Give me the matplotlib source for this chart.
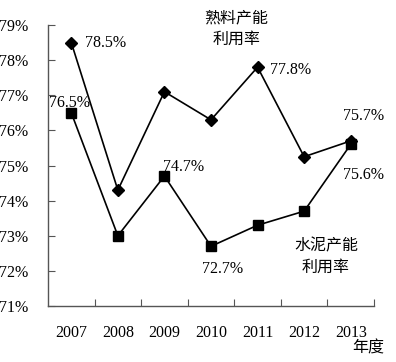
import matplotlib
matplotlib.use("Agg")
import matplotlib.pyplot as plt

plt.rcParams['font.family'] = ['Liberation Serif', 'Noto Sans CJK SC']

years = ['2007', '2008', '2009', '2010', '2011', '2012', '2013']
clinker = [78.5, 74.3, 77.1, 76.3, 77.8, 75.25, 75.7]
cement = [76.5, 73.0, 74.7, 72.7, 73.3, 73.7, 75.6]
yticks = [71, 72, 73, 74, 75, 76, 77, 78, 79]

# which points get a value label, and where (offset in points, ha)
clinker_labels = {0: (10, 0, 'left'), 4: (9, -2, 'left'), 6: (9, 18, 'center')}
cement_labels = {0: (-1.5, 7, 'center'), 2: (-1, 6.5, 'left'),
                 3: (8.5, -16, 'center'), 6: (9, -22, 'center')}

fig = plt.figure(figsize=(3.96, 3.62), dpi=100)
ax = fig.add_axes([48/396, 56/362, 326/396, 281/362])

x = list(range(len(years)))
ax.plot(x, clinker, color='black', lw=1.2, marker='D', ms=6.5, zorder=3)
ax.plot(x, cement, color='black', lw=1.2, marker='s', ms=6.5, zorder=3)

for i, (dx, dy, ha) in clinker_labels.items():
    ax.annotate(f'{clinker[i]:.1f}%', (x[i], clinker[i]), xytext=(dx, dy),
                textcoords='offset points', ha=ha, va='center', fontsize=11.5)
for i, (dx, dy, ha) in cement_labels.items():
    ax.annotate(f'{cement[i]:.1f}%', (x[i], cement[i]), xytext=(dx, dy),
                textcoords='offset points', ha=ha, va='center', fontsize=11.5)

ax.text(3.55, 78.89, '熟料产能\n利用率', ha='center', va='center', fontsize=11.5,
        linespacing=1.45)
ax.text(5.47, 72.38, '水泥产能\n利用率', ha='center', va='center', fontsize=11.5,
        linespacing=1.45)
ax.text(6.37, 69.8, '年度', ha='center', va='center', fontsize=11.5)

ax.set_xlim(-0.5, 6.5)
ax.set_ylim(71, 79)
ax.set_yticks(yticks)
ax.set_yticklabels([f'{v}%' for v in yticks], fontsize=11.5)
ax.set_xticks([i + 0.5 for i in x])
ax.set_xticklabels([])
ax.set_xticks(x, minor=True)
ax.set_xticklabels(years, minor=True, fontsize=11.5)

ax.tick_params(axis='y', direction='in', length=5, color='#555555', pad=14)
ax.tick_params(axis='x', which='major', direction='in', length=5, color='#555555')
ax.tick_params(axis='x', which='minor', length=0, pad=14)

for side in ['top', 'right']:
    ax.spines[side].set_visible(False)
for side in ['left', 'bottom']:
    ax.spines[side].set_color('#555555')
    ax.spines[side].set_linewidth(1.0)

fig.savefig('out.png', dpi=100)
